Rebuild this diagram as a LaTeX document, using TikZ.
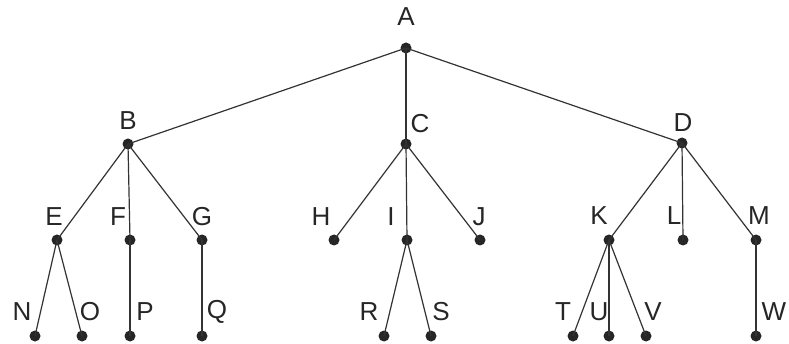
\documentclass[tikz,border=0pt]{standalone}
\usepackage{fontspec}
\setmainfont{Liberation Sans}
\begin{document}
\begin{tikzpicture}[x=1pt,y=-1pt,
  dot/.style={circle,fill=black!85,inner sep=0pt,minimum size=11pt},
  lbl/.style={font=\fontsize{26}{26}\selectfont,text=black!85,inner sep=0pt,anchor=center},
  edge/.style={draw=black!80,line width=1.2pt}]
\useasboundingbox[fill=white] (0,0) rectangle (789,344);
% dots
\node[dot] (A) at (406,48) {};
\node[dot] (B) at (128,144) {};
\node[dot] (C) at (406,144) {};
\node[dot] (D) at (682,143) {};
\node[dot] (E) at (57,240) {};
\node[dot] (F) at (130,240) {};
\node[dot] (G) at (202,240) {};
\node[dot] (H) at (334,240) {};
\node[dot] (I) at (407,240) {};
\node[dot] (J) at (480,240) {};
\node[dot] (K) at (609,240) {};
\node[dot] (L) at (683,240) {};
\node[dot] (M) at (756,240) {};
\node[dot] (N) at (35,336) {};
\node[dot] (O) at (82,336) {};
\node[dot] (P) at (130,336) {};
\node[dot] (Q) at (202,336) {};
\node[dot] (R) at (384,336) {};
\node[dot] (S) at (431,336) {};
\node[dot] (T) at (573,336) {};
\node[dot] (U) at (609,336) {};
\node[dot] (V) at (646,336) {};
\node[dot] (W) at (756,336) {};
% labels
\node[lbl] (lA) at (406,17) {A};
\node[lbl] (lB) at (128,121) {B};
\node[lbl] (lC) at (420,124) {C};
\node[lbl] (lD) at (683,123) {D};
\node[lbl] (lE) at (54,217) {E};
\node[lbl] (lF) at (118,217) {F};
\node[lbl] (lG) at (202,217) {G};
\node[lbl] (lH) at (321,217) {H};
\node[lbl] (lI) at (391,217) {I};
\node[lbl] (lJ) at (479,217) {J};
\node[lbl] (lK) at (599,216) {K};
\node[lbl] (lL) at (674,216) {L};
\node[lbl] (lM) at (759,216) {M};
\node[lbl] (lN) at (22,312) {N};
\node[lbl] (lO) at (90,312) {O};
\node[lbl] (lP) at (145,312) {P};
\node[lbl] (lQ) at (217,312) {Q};
\node[lbl] (lR) at (369,312) {R};
\node[lbl] (lS) at (441,312) {S};
\node[lbl] (lT) at (563,312) {T};
\node[lbl] (lU) at (599,312) {U};
\node[lbl] (lV) at (653,312) {V};
\node[lbl] (lW) at (774,312) {W};
% edges
\foreach \p/\c in {A/B,A/C,A/D,B/E,B/F,B/G,C/H,C/I,C/J,D/K,D/L,D/M,
  E/N,E/O,F/P,G/Q,I/R,I/S,K/T,K/U,K/V,M/W}
  \draw[edge] (\p.center) -- (\c.center);
\end{tikzpicture}
\end{document}
